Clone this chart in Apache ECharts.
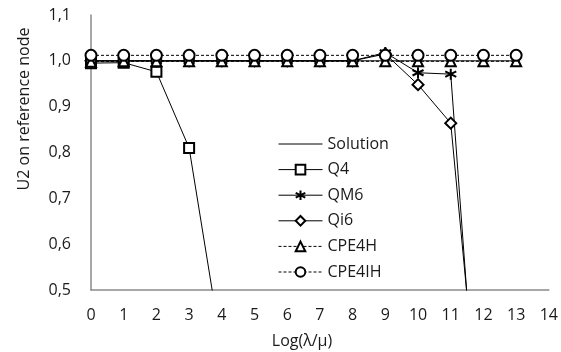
<!DOCTYPE html>
<html>
<head>
<meta charset="utf-8">
<script src="https://cdn.jsdelivr.net/npm/echarts@6/dist/echarts.min.js"></script>
<style>
html,body{margin:0;padding:0;background:#fff;}
#chart{width:561px;height:352px;}
</style>
</head>
<body>
<div id="chart"></div>
<script>
// x values: Log(lambda/mu)
const xValues = [0, 1, 2, 3, 4, 5, 6, 7, 8, 9, 10, 11, 12, 13];
const solution = [1.0, 1.0, 1.0, 1.0, 1.0, 1.0, 1.0, 1.0, 1.0, 1.0, 1.0, 1.0, 1.0, 1.0];
const q4 = [0.995, 0.996, 0.976, 0.81, 0.37];
const qm6 = [1.0, 1.0, 1.0, 1.0, 1.0, 1.0, 1.0, 1.0, 1.0, 1.018, 0.974, 0.971, 0.0];
const qi6 = [1.0, 1.0, 1.0, 1.0, 1.0, 1.0, 1.0, 1.0, 1.0, 1.015, 0.948, 0.864, 0.11];
const cpe4h = [0.998, 0.999, 0.999, 0.999, 0.999, 0.999, 0.999, 0.999, 0.999, 0.999, 0.999, 0.999, 0.999, 0.999];
const cpe4ih = [1.012, 1.012, 1.012, 1.012, 1.012, 1.012, 1.012, 1.012, 1.012, 1.012, 1.012, 1.012, 1.012, 1.012];
const xTicks = ['0','1','2','3','4','5','6','7','8','9','10','11','12','13','14'];
const yTicks = ['0,5','0,6','0,7','0,8','0,9','1,0','1,1'];
const seriesNames = ['Solution', 'Q4', 'QM6', 'Qi6', 'CPE4H', 'CPE4IH'];

function pairs(vals) { return vals.map((v, i) => [xValues[i], v]); }

const FONT = 'Open Sans';
const TXT = '#1a1a1a';
const asterisk = 'path://M5,0L5,10M0.7,2.5L9.3,7.5M9.3,2.5L0.7,7.5';

const chart = echarts.init(document.getElementById('chart'), null, {renderer: 'canvas'});
const baseLine = {type: 'line', clip: true, animation: false, z: 2};
chart.setOption({
  animation: false,
  backgroundColor: '#fff',
  grid: {left: 91, right: 8, top: 15, bottom: 62, containLabel: false},
  xAxis: {
    type: 'value', min: 0, max: 14, interval: 1,
    axisLine: {show: true, lineStyle: {color: '#8a8a8a', width: 1.5}},
    axisTick: {show: false},
    splitLine: {show: false},
    axisLabel: {margin: 17, fontFamily: FONT, fontSize: 16, color: TXT,
      formatter: v => xTicks[Math.round(v)]}
  },
  yAxis: {
    type: 'value', min: 0.5, max: 1.1, interval: 0.1,
    axisLine: {show: true, lineStyle: {color: '#8a8a8a', width: 1.5}},
    axisTick: {show: false},
    splitLine: {show: false},
    axisLabel: {margin: 20, fontFamily: FONT, fontSize: 16, color: TXT,
      formatter: v => yTicks[Math.round((v - 0.5) * 10)]}
  },
  legend: {
    orient: 'vertical', left: 273, top: 131,
    itemWidth: 44, itemHeight: 12, itemGap: 9.6,
    lineStyle: {width: 1},
    textStyle: {fontFamily: FONT, fontSize: 16, color: TXT, lineHeight: 16},
    data: [
      {name: seriesNames[0], itemStyle: {opacity: 0}},
      seriesNames[1], seriesNames[2], seriesNames[3], seriesNames[4], seriesNames[5]
    ]
  },
  graphic: [
    {type: 'text', x: 24, y: 109, rotation: Math.PI / 2,
      style: {text: 'U2 on reference node', font: '16px "Open Sans"', fill: TXT, align: 'center', verticalAlign: 'middle'}},
    {type: 'text', x: 302, y: 341,
      style: {text: 'Log(λ/μ)', font: '16px "Open Sans"', fill: TXT, align: 'center', verticalAlign: 'middle'}}
  ],
  series: [
    Object.assign({}, baseLine, {name: seriesNames[0], data: pairs(solution), symbol: 'none',
      lineStyle: {color: '#000', width: 1}, itemStyle: {color: '#000'}}),
    Object.assign({}, baseLine, {name: seriesNames[1], data: pairs(q4), symbol: 'emptyRect', symbolSize: 10,
      lineStyle: {color: '#000', width: 1}, itemStyle: {color: '#000', borderWidth: 1.5}}),
    Object.assign({}, baseLine, {name: seriesNames[2], data: pairs(qm6), symbol: asterisk, symbolSize: 11,
      lineStyle: {color: '#000', width: 1}, itemStyle: {color: '#000', borderColor: '#000', borderWidth: 2}}),
    Object.assign({}, baseLine, {name: seriesNames[3], data: pairs(qi6), symbol: 'emptyDiamond', symbolSize: 11,
      lineStyle: {color: '#000', width: 1}, itemStyle: {color: '#000', borderWidth: 1.5}}),
    Object.assign({}, baseLine, {name: seriesNames[4], data: pairs(cpe4h), symbol: 'emptyTriangle', symbolSize: 10,
      lineStyle: {color: '#000', width: 1, type: [3, 2]}, itemStyle: {color: '#000', borderWidth: 1.5}}),
    Object.assign({}, baseLine, {name: seriesNames[5], data: pairs(cpe4ih), symbol: 'emptyCircle', symbolSize: 11,
      lineStyle: {color: '#000', width: 1, type: [3, 2]}, itemStyle: {color: '#000', borderWidth: 1.5}})
  ]
});
</script>
</body>
</html>
